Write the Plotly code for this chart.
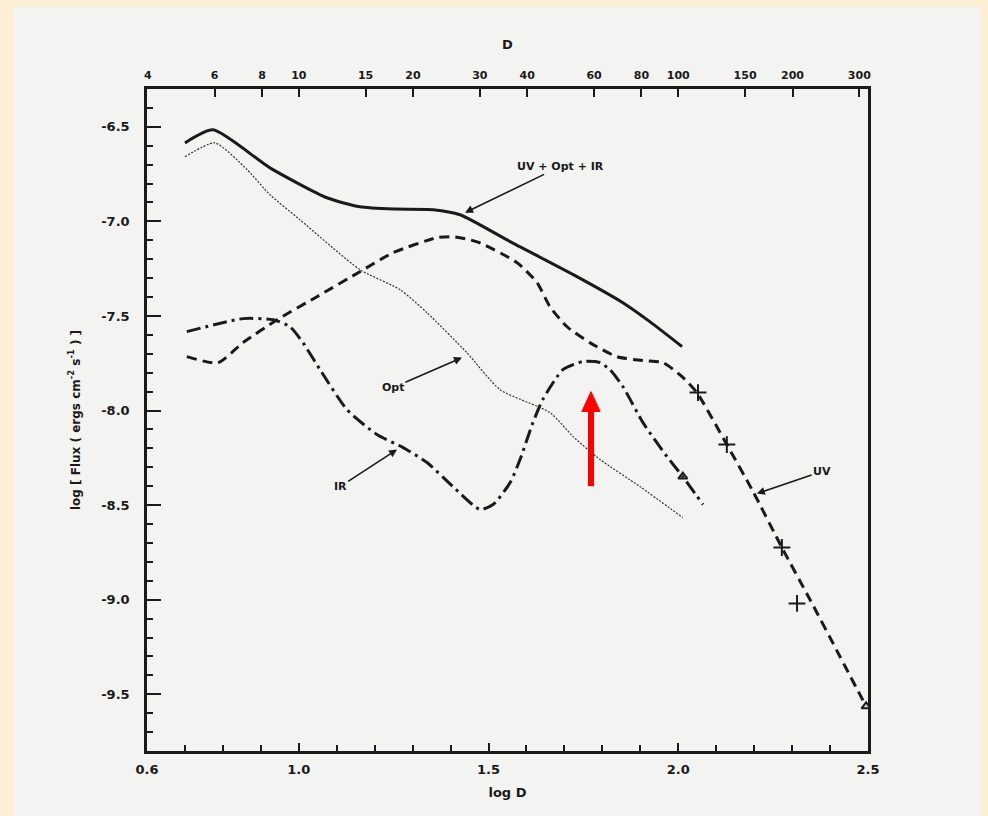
import plotly.graph_objects as go
import numpy as np

# ---- data (log D, log Flux) ----
total_x = [0.700, 0.774, 0.924, 1.074, 1.161, 1.250, 1.354, 1.425, 1.557, 1.733, 1.854, 1.925, 2.010]
total_y = [-6.585, -6.516, -6.717, -6.875, -6.923, -6.935, -6.938, -6.965, -7.107, -7.292, -7.430, -7.530, -7.662]

opt_x = [0.700, 0.779, 0.864, 0.924, 1.003, 1.161, 1.267, 1.338, 1.443, 1.530, 1.662, 1.723, 1.794, 1.899, 2.012]
opt_y = [-6.658, -6.585, -6.727, -6.859, -6.991, -7.255, -7.361, -7.483, -7.694, -7.889, -8.011, -8.138, -8.259, -8.402, -8.566]

ir_x = [0.705, 0.853, 0.932, 0.977, 1.011, 1.056, 1.127, 1.206, 1.275, 1.338, 1.406, 1.477, 1.512, 1.557,
        1.583, 1.617, 1.643, 1.696, 1.749, 1.794, 1.820, 1.854, 1.907, 1.970, 2.012, 2.065]
ir_y = [-7.583, -7.514, -7.520, -7.557, -7.641, -7.784, -7.995, -8.127, -8.196, -8.275, -8.402, -8.523, -8.497, -8.381,
        -8.259, -8.064, -7.942, -7.784, -7.741, -7.747, -7.784, -7.873, -8.064, -8.243, -8.349, -8.497]

uv_x = [0.705, 0.787, 0.853, 0.943, 1.048, 1.161, 1.248, 1.364, 1.406, 1.470, 1.575, 1.628, 1.662, 1.707,
        1.767, 1.838, 1.907, 1.960, 2.010, 2.049, 2.128, 2.197, 2.273, 2.347, 2.426, 2.495]
uv_y = [-7.715, -7.747, -7.641, -7.520, -7.398, -7.266, -7.166, -7.086, -7.081, -7.108, -7.218, -7.324, -7.451, -7.557,
        -7.641, -7.715, -7.736, -7.747, -7.821, -7.905, -8.180, -8.428, -8.724, -8.999, -9.300, -9.564]

uv_obs_x = [2.052, 2.128, 2.273, 2.313]
uv_obs_y = [-7.905, -8.180, -8.724, -9.020]
tri_x = [2.012, 2.495]
tri_y = [-8.349, -9.564]

bottom_ticks = [0.6, 1.0, 1.5, 2.0, 2.5]
bottom_labels = ["0.6", "1.0", "1.5", "2.0", "2.5"]
top_D = [4, 6, 8, 10, 15, 20, 30, 40, 60, 80, 100, 150, 200, 300]
y_ticks = [-6.5, -7.0, -7.5, -8.0, -8.5, -9.0, -9.5]
y_labels = ["-6.5", "-7.0", "-7.5", "-8.0", "-8.5", "-9.0", "-9.5"]

# red highlight arrow (log D position, tail and tip in log Flux)
red_x = 1.770
red_tail_y = -8.40
red_tip_y = -7.90

INK = "#1a1a1a"
FONT = dict(family="DejaVu Sans", size=12, color=INK, weight="bold")

fig = go.Figure()
fig.add_trace(go.Scatter(x=total_x, y=total_y, mode="lines",
                         line=dict(color=INK, width=3, shape="spline", smoothing=0.6)))
fig.add_trace(go.Scatter(x=opt_x, y=opt_y, mode="lines",
                         line=dict(color="#333333", width=1.2, dash="2px,1.5px", shape="spline", smoothing=0.6)))
fig.add_trace(go.Scatter(x=ir_x, y=ir_y, mode="lines",
                         line=dict(color=INK, width=3, dash="14px,5px,3px,5px", shape="spline", smoothing=0.6)))
fig.add_trace(go.Scatter(x=uv_x, y=uv_y, mode="lines",
                         line=dict(color=INK, width=3, dash="10px,6px", shape="spline", smoothing=0.6)))
fig.add_trace(go.Scatter(x=uv_obs_x, y=uv_obs_y, mode="markers",
                         marker=dict(symbol="cross-thin-open", size=12, color=INK, line=dict(width=2, color=INK))))
fig.add_trace(go.Scatter(x=tri_x, y=tri_y, mode="markers",
                         marker=dict(symbol="triangle-up-open", size=8, color=INK, line=dict(width=2, color=INK))))
# invisible trace for top axis
fig.add_trace(go.Scatter(x=[0.6, 2.5], y=[-9.8, -9.8], xaxis="x2", mode="markers",
                         marker=dict(opacity=0), hoverinfo="skip"))

fig.update_layout(
    width=988, height=816,
    margin=dict(l=147, r=120, t=89, b=65),
    paper_bgcolor="#FBEFD6",
    plot_bgcolor="rgba(0,0,0,0)",
    showlegend=False,
    font=FONT,
    xaxis=dict(range=[0.6, 2.5], tickvals=bottom_ticks, ticktext=bottom_labels,
               ticks="inside", ticklen=8, tickwidth=2, tickcolor=INK,
               showline=True, linewidth=2.5, linecolor=INK, mirror=True,
               showgrid=False, zeroline=False, tickfont=dict(size=13),
               ticklabelstandoff=5,
               title=dict(text="log D", font=dict(size=13), standoff=12),
               minor=dict(ticks="inside", ticklen=6, tickwidth=1.5, tickcolor=INK, dtick=0.1, tick0=0.6, showgrid=False)),
    xaxis2=dict(range=[0.6, 2.5], overlaying="x", side="top",
                tickvals=[float(np.log10(d)) for d in top_D], ticktext=[str(d) for d in top_D],
                ticks="inside", ticklen=8, tickwidth=2, tickcolor=INK,
                showline=False, showgrid=False, zeroline=False, tickfont=dict(size=11),
                ticklabelstandoff=7,
                title=dict(text="D", font=dict(size=13), standoff=16)),
    yaxis=dict(range=[-9.8, -6.3], tickvals=y_ticks, ticktext=y_labels,
               ticks="inside", ticklen=14, tickwidth=2, tickcolor=INK,
               showline=True, linewidth=2.5, linecolor=INK, mirror=True,
               showgrid=False, zeroline=False, tickfont=dict(size=13),
               ticklabelstandoff=12,
               title=dict(text="log [ Flux ( ergs cm<sup>-2</sup> s<sup>-1</sup> ) ]", font=dict(size=12), standoff=19),
               minor=dict(ticks="inside", ticklen=6, tickwidth=1.5, tickcolor=INK, dtick=0.1, tick0=-6.5, showgrid=False)),
)

# white page
fig.add_shape(type="rect", xref="paper", yref="paper", x0=-0.1845, x1=1.1567, y0=-0.0982, y1=1.1239,
              fillcolor="#F3F3F1", line=dict(width=0), layer="below")

# curve labels with arrows (label at tail, arrow head on curve)
labels = [
    ("UV + Opt + IR", 1.690, -6.709, 1.438, -6.954),
    ("Opt", 1.248, -7.879, 1.430, -7.720),
    ("IR", 1.109, -8.402, 1.259, -8.206),
    ("UV", 2.379, -8.322, 2.207, -8.439),
]
for txt, tx, ty, hx, hy in labels:
    fig.add_annotation(x=hx, y=hy, ax=tx, ay=ty, axref="x", ayref="y", text=txt,
                       showarrow=True, arrowhead=2, arrowsize=1, arrowwidth=1.6, arrowcolor=INK,
                       standoff=0, font=dict(size=11))

# red arrow drawn with shapes (shaft + head)
head_len = 0.105   # in log Flux units
head_half = 0.024  # in log D units
fig.add_shape(type="line", xref="x", yref="y", x0=red_x, x1=red_x, y0=red_tail_y, y1=red_tip_y - head_len * 0.8,
              line=dict(color="#FF0000", width=6))
fig.add_shape(type="path", xref="x", yref="y",
              path=f"M {red_x - head_half},{red_tip_y - head_len} L {red_x + head_half},{red_tip_y - head_len} L {red_x},{red_tip_y} Z",
              fillcolor="#FF0000", line=dict(color="#FF0000", width=1))

fig.write_html("out.html")
